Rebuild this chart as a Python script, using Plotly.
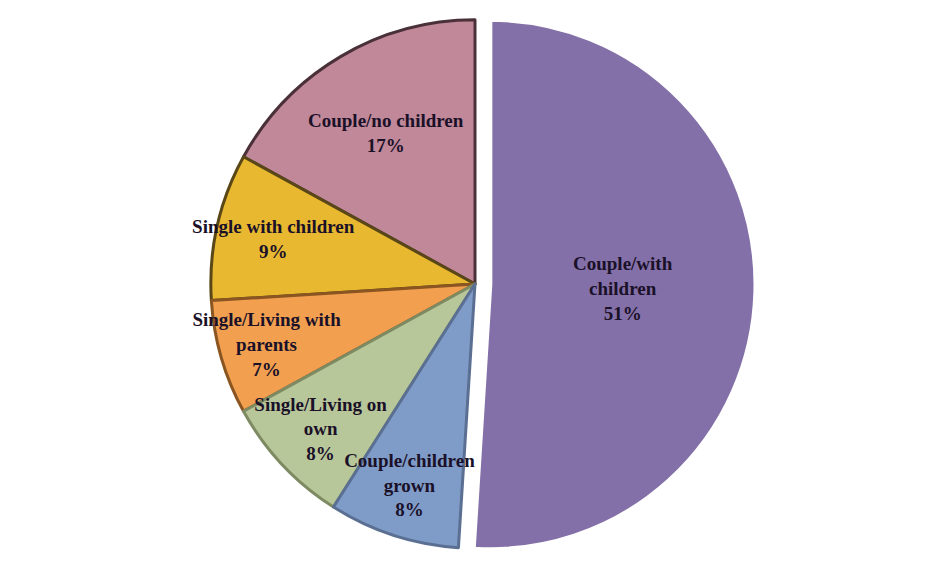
import plotly.graph_objects as go

# Household composition shares (percent), listed counter-clockwise from 12 o'clock
categories = [
    "Couple/no children",
    "Single with children",
    "Single/Living with<br>parents",
    "Single/Living on<br>own",
    "Couple/children<br>grown",
    "Couple/with<br>children",
]
shares = [17, 9, 7, 8, 8, 51]

colors = ["#C08898", "#E8B830", "#F2A050", "#B8C79A", "#7F9CC8", "#8470A8"]
edge_colors = ["#4A3038", "#5A4718", "#8A5520", "#7D8A62", "#5A6F92", "#FFFFFF"]
pull = [0, 0, 0, 0, 0, 0.06]

# start the first slice at 12 o'clock and run counter-clockwise
start_rotation = -shares[0] / sum(shares) * 360

fig = go.Figure(
    go.Pie(
        labels=categories,
        values=shares,
        sort=False,
        direction="counterclockwise",
        rotation=start_rotation,
        pull=pull,
        marker=dict(colors=colors, line=dict(color=edge_colors, width=3)),
        texttemplate="<b>%{label}<br>%{value}%</b>",
        textposition="inside",
        insidetextorientation="horizontal",
        textfont=dict(family="Liberation Serif", size=19, color="#1A1028"),
        hoverinfo="label+percent",
        showlegend=False,
    )
)

fig.update_layout(
    width=950,
    height=568,
    margin=dict(l=4, r=4, t=4, b=4),
    paper_bgcolor="white",
    plot_bgcolor="white",
    uniformtext=dict(minsize=18, mode="show"),
)

fig.write_html("out.html")
